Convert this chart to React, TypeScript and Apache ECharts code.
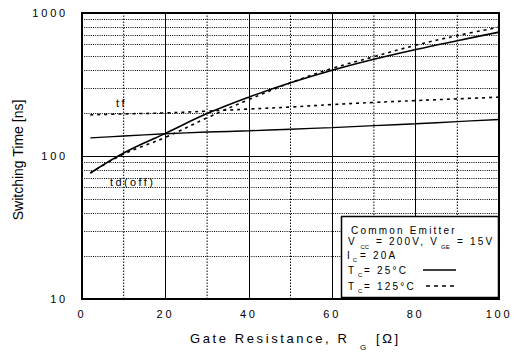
import React, { useEffect, useRef } from "react";
import * as echarts from "echarts";

// Gate resistance sample points [Ω]
const rg = [2, 10, 20, 30, 40, 50, 60, 70, 80, 90, 100];
// Switching times [ns]
const tdOff25 = [76, 105, 144, 198, 258, 325, 398, 475, 555, 640, 735];
const tdOff125 = [76, 103, 135, 185, 248, 325, 410, 495, 595, 695, 795];
const tf25 = [134, 138, 143, 147, 150, 154, 158, 163, 168, 174, 180];
const tf125 = [194, 197, 200, 206, 213, 220, 229, 237, 244, 251, 258];
// Axis ticks
const xTicks = [0, 20, 40, 60, 80, 100];
const yTicks = [10, 100, 1000];
const xMinorGrid = [10, 30, 50, 70, 90];
const yMinorGrid = [20, 30, 40, 50, 60, 70, 80, 90, 200, 300, 400, 500, 600, 700, 800, 900];

const F_TICK = "Liberation Sans, lsA";
const F_LEG = "Liberation Sans, lsB";
const F_TITLE = "Liberation Sans, lsC";
const F_LBL = "Liberation Sans, lsD";
const F_PLAIN = "Liberation Sans";

const css = `
#chart text[style*="lsA"] { letter-spacing: 2.8px; }
#chart text[style*="lsB"] { letter-spacing: 2.2px; }
#chart text[style*="lsC"] { letter-spacing: 2.6px; }
#chart text[style*="lsD"] { letter-spacing: 2.4px; }
`;

const pair = (ys: number[]) => rg.map((x, i) => [x, ys[i]]);

function txt(text: string, x: number, y: number, size: number, family: string, extra: any = {}, rotation = 0) {
  return {
    type: "text",
    x,
    y,
    rotation,
    z: 100,
    silent: true,
    style: {
      text,
      fill: "#000",
      fontSize: size,
      fontFamily: family,
      textAlign: "left",
      textVerticalAlign: "middle",
      ...extra,
    },
  };
}

export default function App() {
  const ref = useRef<HTMLDivElement>(null);
  useEffect(() => {
    if (!ref.current) return;
    const chart = echarts.init(ref.current, undefined, { renderer: "svg" });
    const lineBase = { type: "line", showSymbol: false, symbol: "none", smooth: 0.4, silent: true };
    const dotted = { color: "#000", width: 1, type: [1, 1.2] };
    const yMin = yTicks[0];
    const yMax = yTicks[yTicks.length - 1];
    const vGrid: any[] = [];
    xMinorGrid.forEach((v) => {
      vGrid.push([v, yMin], [v, yMax], null);
    });
    chart.setOption({
      animation: false,
      backgroundColor: "#fff",
      grid: { left: 82, right: 20, top: 13, bottom: 53, show: true, borderColor: "#000", borderWidth: 2, backgroundColor: "transparent" },
      xAxis: {
        type: "value",
        min: xTicks[0],
        max: xTicks[xTicks.length - 1],
        interval: xTicks[1] - xTicks[0],
        axisLine: { show: true, lineStyle: { color: "#000", width: 2 } },
        axisTick: { show: false },
        axisLabel: { color: "#000", fontSize: 11, fontFamily: F_TICK, margin: 9 },
        splitLine: { show: true, lineStyle: { color: "#000", width: 1 } },
      },
      yAxis: {
        type: "log",
        logBase: 10,
        min: yMin,
        max: yMax,
        axisLine: { show: true, lineStyle: { color: "#000", width: 2 } },
        axisTick: { show: false },
        axisLabel: { color: "#000", fontSize: 11, fontFamily: F_TICK, margin: 14, formatter: (v: number) => String(v) },
        splitLine: { show: true, lineStyle: { color: "#000", width: 1 } },
      },
      series: [
        {
          type: "line",
          name: "vgrid",
          z: 1,
          silent: true,
          showSymbol: false,
          symbol: "none",
          smooth: false,
          connectNulls: false,
          data: vGrid,
          lineStyle: { color: "#000", width: 1, type: [1.5, 1.5] },
        },
        { ...lineBase, name: "td(off) 25", z: 3, data: pair(tdOff25), lineStyle: { color: "#000", width: 1.6 } },
        { ...lineBase, name: "td(off) 125", z: 3, data: pair(tdOff125), lineStyle: { color: "#000", width: 1.6, type: [3, 4] } },
        {
          ...lineBase,
          name: "tf 25",
          z: 3,
          data: pair(tf25),
          lineStyle: { color: "#000", width: 1.4 },
          markLine: {
            silent: true,
            symbol: "none",
            label: { show: false },
            lineStyle: dotted,
            data: yMinorGrid.map((v) => ({ yAxis: v })),
          },
        },
        { ...lineBase, name: "tf 125", z: 3, data: pair(tf125), lineStyle: { color: "#000", width: 1.6, type: [3, 4] } },
      ],
      graphic: [
        // axis titles
        txt("Switching Time [ns]", 18, 160, 14, F_PLAIN, { textAlign: "center" }, Math.PI / 2),
        txt("Gate Resistance, R", 190, 338.5, 13, F_TITLE),
        txt("G", 360, 347, 8, F_PLAIN),
        txt("[Ω]", 376, 338.5, 13, F_TITLE),
        // curve labels
        txt("tf", 116, 102.7, 11, F_LBL),
        txt("td(off)", 110, 181.7, 11, F_LBL),
        // legend box
        {
          type: "rect",
          z: 90,
          silent: true,
          shape: { x: 341.5, y: 216.5, width: 157, height: 81 },
          style: { fill: "#fff", stroke: "#000", lineWidth: 1.5 },
        },
        txt("Common Emitter", 351, 230, 10, F_LEG),
        txt("V", 348, 241.7, 10, F_LEG),
        txt("CC", 360.5, 247, 6, F_PLAIN),
        txt("= 200V, V", 376, 241.7, 10, F_LEG),
        txt("GE", 441, 247, 6, F_PLAIN),
        txt("= 15V", 457, 241.7, 10, F_LEG),
        txt("I", 347, 255.7, 10, F_LEG),
        txt("C", 352.7, 260.3, 6, F_PLAIN),
        txt("= 20A", 360, 255.7, 10, F_LEG),
        txt("T", 348, 270, 10, F_LEG),
        txt("C", 358, 274.5, 6, F_PLAIN),
        txt("= 25°C", 364, 270, 10, F_LEG),
        {
          type: "line",
          z: 100,
          silent: true,
          shape: { x1: 423, y1: 270, x2: 456, y2: 270 },
          style: { stroke: "#000", lineWidth: 1.5 },
        },
        txt("T", 348, 286, 10, F_LEG),
        txt("C", 358, 290.5, 6, F_PLAIN),
        txt("= 125°C", 364, 286, 10, F_LEG),
        {
          type: "line",
          z: 100,
          silent: true,
          shape: { x1: 426, y1: 286, x2: 456, y2: 286 },
          style: { stroke: "#000", lineWidth: 1.5, lineDash: [4, 4] },
        },
      ],
    });
    return () => chart.dispose();
  }, []);
  return (
    <>
      <style>{css}</style>
      <div
        id="chart"
        ref={ref}
        style={{ position: "fixed", left: 0, top: 0, width: 519, height: 352, background: "#fff" }}
      />
    </>
  );
}
